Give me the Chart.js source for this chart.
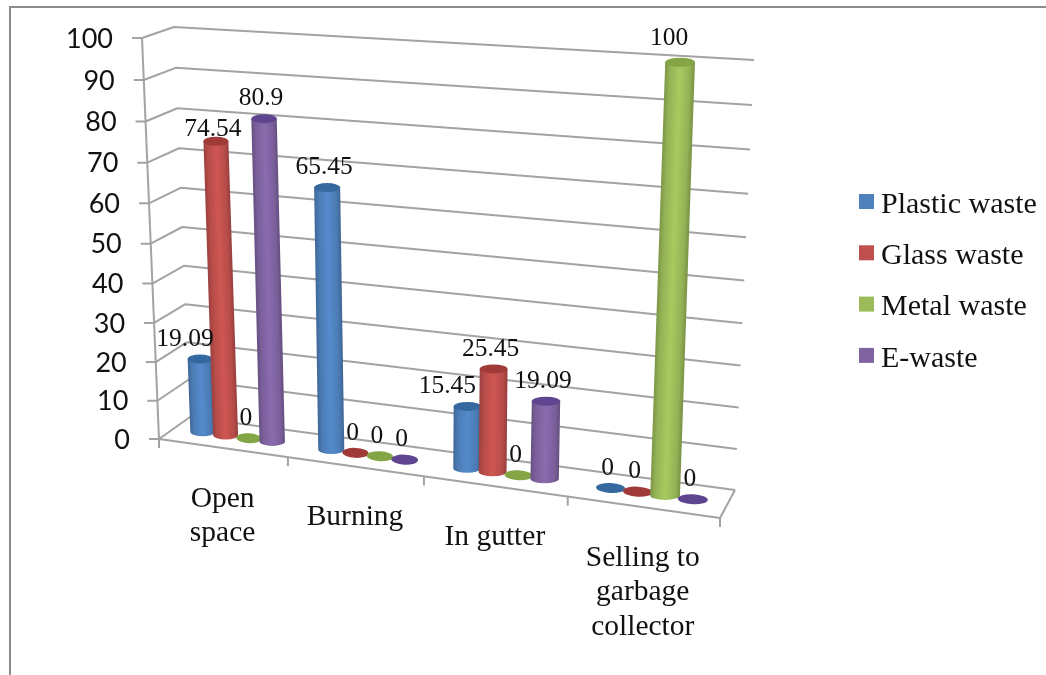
<!DOCTYPE html>
<html>
<head>
<meta charset="utf-8">
<title>Waste disposal</title>
<script src="https://cdn.jsdelivr.net/npm/chart.js@4/dist/chart.umd.min.js"></script>
<style>
  html, body { margin: 0; padding: 0; background: #fff; }
  canvas { display: block; }
</style>
</head>
<body>
<canvas id="chart-waste" width="1046" height="675"></canvas>
<script>
// -- DATA ----------------------------------------------
const categories = [["Open", "space"], ["Burning"], ["In gutter"], ["Selling to", "garbage", "collector"]];
const seriesNames = ["Plastic waste", "Glass waste", "Metal waste", "E-waste"];
const plasticWaste = [19.09, 65.45, 15.45, 0];
const glassWaste = [74.54, 0, 25.45, 0];
const metalWaste = [0, 0, 0, 100];
const eWaste = [80.9, 0, 19.09, 0];
const yTicks = { min: 0, max: 100, stepSize: 10 };

const seriesColors = ["#4f81bd", "#c0504d", "#9bbb59", "#8064a2"];
const capColors = ["#34689f", "#a03a38", "#83a544", "#5f4590"];

// -- 3D BOX --------------------------------------------
// corners of the plot box as [x, y]: front/back, left/right, bottom/top
const BOX = {
  flb: [159, 439], flt: [142, 38], frb: [720, 518], frt: [739, 72],
  blb: [190, 417], blt: [174, 27], brb: [735, 490], brt: [754, 60]
};
const FORESHORTEN_U = 0.895; // categories get wider towards the right
const FORESHORTEN_V = 0.95; // value steps get taller towards the top
const BAR_DEPTH = 0.5;
const CAP_RY = 4.5;
const FLAT_RY = 5;
const GRID_COLOR = "#a3a3a3";
const FRAME_COLOR = "#8c8c8c";
const SERIF = '"Liberation Serif", serif';

function mix(a, b, t) {
  return [a[0] + (b[0] - a[0]) * t, a[1] + (b[1] - a[1]) * t];
}

function foreshorten(t, w) {
  return (t * w) / (1 + (w - 1) * t);
}

// u along the categories, v up the value axis, d from front to back
function project(u, v, d) {
  const f = foreshorten(u, FORESHORTEN_U);
  const bottom = mix(mix(BOX.flb, BOX.frb, f), mix(BOX.blb, BOX.brb, f), d);
  const top = mix(mix(BOX.flt, BOX.frt, f), mix(BOX.blt, BOX.brt, f), d);
  return mix(bottom, top, foreshorten(v, FORESHORTEN_V));
}

function shade(hex, k) {
  const n = parseInt(hex.slice(1), 16);
  const ch = (s) => Math.max(0, Math.min(255, Math.round(((n >> s) & 255) * k)));
  return `rgb(${ch(16)},${ch(8)},${ch(0)})`;
}

function strokeLine(ctx, a, b) {
  ctx.beginPath();
  ctx.moveTo(a[0], a[1]);
  ctx.lineTo(b[0], b[1]);
  ctx.stroke();
}

// -- DRAWING -------------------------------------------
function drawFrame(ctx) {
  ctx.strokeStyle = FRAME_COLOR;
  ctx.lineWidth = 2;
  ctx.beginPath();
  ctx.moveTo(10, 675);
  ctx.lineTo(10, 7);
  ctx.lineTo(1046, 7);
  ctx.stroke();
}

function drawWalls(chart) {
  const { ctx, scales } = chart;
  const yScale = scales.y;
  const xScale = scales.x;
  const area = chart.chartArea;
  ctx.strokeStyle = GRID_COLOR;
  ctx.lineWidth = 2;
  ctx.lineJoin = "round";

  yScale.ticks.forEach((tick) => {
    const v = (area.bottom - yScale.getPixelForValue(tick.value)) / area.height;
    const front = project(0, v, 0);
    const corner = project(0, v, 1);
    const end = project(1, v, 1);
    ctx.beginPath();
    ctx.moveTo(front[0] - 10, front[1]);
    ctx.lineTo(front[0], front[1]);
    ctx.lineTo(corner[0], corner[1]);
    ctx.lineTo(end[0], end[1]);
    ctx.stroke();

    ctx.fillStyle = "#111";
    ctx.font = '27px Lato, sans-serif';
    ctx.textAlign = "right";
    ctx.textBaseline = "middle";
    ctx.fillText(tick.label, front[0] - 29, front[1] + 1);
  });

  // axis line and floor outline
  strokeLine(ctx, project(0, 1, 0), project(0, 0, 0));
  strokeLine(ctx, project(0, 0, 0), project(1, 0, 0));
  strokeLine(ctx, project(1, 0, 0), project(1, 0, 1));

  // category ticks on the front edge of the floor, one per band boundary
  const n = categories.length;
  for (let i = 0; i <= n; i++) {
    const p = project(i / n, 0, 0);
    strokeLine(ctx, p, [p[0], p[1] + 9]);
  }

  ctx.fillStyle = "#111";
  ctx.font = `29.5px ${SERIF}`;
  ctx.textAlign = "center";
  ctx.textBaseline = "middle";
  categories.forEach((lines, i) => {
    const u = (xScale.getPixelForValue(i) - area.left) / area.width;
    const p = project(u, 0, 0);
    lines.forEach((line, k) => ctx.fillText(line, p[0], p[1] + 51 + k * 34.5));
  });
}

function drawCylinder(ctx, left, right, baseC, topC, bar) {
  const rx = (right[0] - left[0]) / 2;
  if (bar.value === 0) {
    ctx.fillStyle = bar.cap;
    ctx.beginPath();
    ctx.ellipse(baseC[0], baseC[1], rx, FLAT_RY, 0.05, 0, Math.PI * 2);
    ctx.fill();
    return;
  }
  // shear so the shading runs along the leaning body
  const lean = (topC[0] - baseC[0]) / (topC[1] - baseC[1]);
  ctx.save();
  ctx.transform(1, 0, lean, 1, -lean * baseC[1], 0);
  const grad = ctx.createLinearGradient(baseC[0] - rx, 0, baseC[0] + rx, 0);
  grad.addColorStop(0, shade(bar.color, 0.8));
  grad.addColorStop(0.16, shade(bar.color, 0.95));
  grad.addColorStop(0.5, shade(bar.color, 1.08));
  grad.addColorStop(0.84, shade(bar.color, 0.95));
  grad.addColorStop(1, shade(bar.color, 0.78));
  ctx.fillStyle = grad;
  ctx.beginPath();
  ctx.moveTo(baseC[0] - rx, topC[1]);
  ctx.lineTo(baseC[0] - rx, baseC[1]);
  ctx.ellipse(baseC[0], baseC[1], rx, CAP_RY, 0, Math.PI, 0, true);
  ctx.lineTo(baseC[0] + rx, topC[1]);
  ctx.closePath();
  ctx.fill();
  ctx.restore();

  ctx.fillStyle = bar.cap;
  ctx.beginPath();
  ctx.ellipse(topC[0], topC[1], rx, CAP_RY, 0, 0, Math.PI * 2);
  ctx.fill();
}

// a few value labels sit further from their bar than the others
function labelNudge(series, cat) {
  if (series === 0 && cat === 0) return [-12, 0];
  if (series === 0 && cat === 2) return [-17, 0];
  if (series === 1 && cat === 0) return [0, 8];
  if (series === 2 && cat === 3) return [-8, -4];
  return [0, 0];
}

function drawBars(chart) {
  const { ctx, data } = chart;
  const area = chart.chartArea;
  const labels = [];
  const toU = (px) => (px - area.left) / area.width;

  for (let cat = 0; cat < categories.length; cat++) {
    data.datasets.forEach((ds, series) => {
      const el = chart.getDatasetMeta(series).data[cat];
      const v = (area.bottom - el.y) / area.height;
      const baseC = project(toU(el.x), 0, BAR_DEPTH);
      const topC = project(toU(el.x), v, BAR_DEPTH);
      const left = project(toU(el.x - el.width / 2), 0, BAR_DEPTH);
      const right = project(toU(el.x + el.width / 2), 0, BAR_DEPTH);
      drawCylinder(ctx, left, right, baseC, topC, {
        value: ds.data[cat],
        color: seriesColors[series],
        cap: capColors[series]
      });
      const nudge = labelNudge(series, cat);
      labels.push({
        text: String(ds.data[cat]),
        x: topC[0] - 3 + nudge[0],
        y: topC[1] - 20 + nudge[1]
      });
    });
  }

  ctx.fillStyle = "#111";
  ctx.font = `25.5px ${SERIF}`;
  ctx.textAlign = "center";
  ctx.textBaseline = "middle";
  labels.forEach((l) => ctx.fillText(l.text, l.x, l.y));
}

function drawLegend(chart) {
  const { ctx, data } = chart;
  ctx.font = `30px ${SERIF}`;
  ctx.textAlign = "left";
  ctx.textBaseline = "middle";
  data.datasets.forEach((ds, i) => {
    const y = 194 + i * 51.3;
    ctx.fillStyle = ds.backgroundColor;
    ctx.fillRect(859, y, 15, 15);
    ctx.fillStyle = "#111";
    ctx.fillText(ds.label, 881, y + 11);
  });
}

const cylinderPlugin = {
  id: "cylinders",
  beforeDatasetsDraw(chart) {
    drawFrame(chart.ctx);
    drawWalls(chart);
    drawBars(chart);
    drawLegend(chart);
    return false; // default flat bars stay hidden
  }
};

// -- RENDER --------------------------------------------
const seriesValues = [plasticWaste, glassWaste, metalWaste, eWaste];

new Chart(document.getElementById("chart-waste"), {
  type: "bar",
  data: {
    labels: categories,
    datasets: seriesValues.map((values, i) => ({
      label: seriesNames[i],
      data: values,
      backgroundColor: seriesColors[i],
      categoryPercentage: 0.73,
      barPercentage: 1.08
    }))
  },
  options: {
    responsive: false,
    animation: false,
    layout: { padding: { left: 142, right: 292, top: 27, bottom: 157 } },
    scales: {
      x: { display: false },
      y: { display: false, min: yTicks.min, max: yTicks.max, ticks: { stepSize: yTicks.stepSize } }
    },
    plugins: {
      legend: { display: false },
      tooltip: { enabled: false }
    }
  },
  plugins: [cylinderPlugin]
});
</script>
</body>
</html>
